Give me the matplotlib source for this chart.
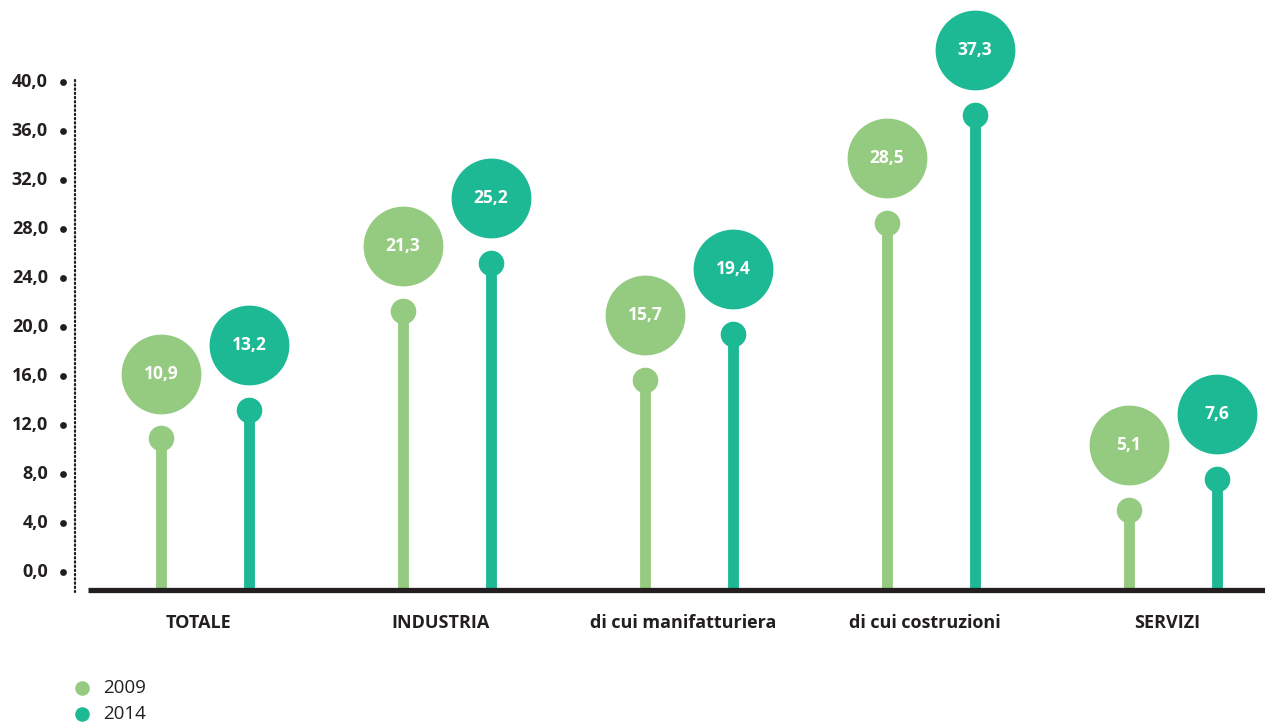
import matplotlib

matplotlib.use("Agg")
import matplotlib.pyplot as plt

plt.rcParams["font.family"] = ["Open Sans", "DejaVu Sans"]

# dati
categorie = ["TOTALE", "INDUSTRIA", "di cui manifatturiera", "di cui costruzioni", "SERVIZI"]
anni = ["2009", "2014"]
valori_2009 = [10.9, 21.3, 15.7, 28.5, 5.1]
valori_2014 = [13.2, 25.2, 19.4, 37.3, 7.6]
tick_y = [0, 4, 8, 12, 16, 20, 24, 28, 32, 36, 40]

COL_2009 = "#95cb80"
COL_2014 = "#1db994"
NERO = "#231f20"

W, H = 1265, 722
fig = plt.figure(figsize=(W / 100, H / 100), dpi=100)
ax = fig.add_axes([0, 0, 1, 1])
ax.axis("off")

# scala: 12.25 px per unità, zero a y=572 px; categorie ogni 242 px
px_y = 12.25
ax.set_ylim(-(H - 572) / px_y, 572 / px_y)
ax.set_xlim(-205 / 242, (W - 205) / 242)

base = -18 / px_y        # linea di base sotto lo zero
off = 44 / 242           # distanza delle due serie dal centro
bolla = 5.3              # bolla etichetta sopra il marker

x = list(range(len(categorie)))
for serie, col, sgn in ((valori_2009, COL_2009, -1), (valori_2014, COL_2014, 1)):
    xs = [i + sgn * off for i in x]
    ax.vlines(xs, base, serie, color=col, lw=7.8, zorder=2)
    ax.scatter(xs, serie, s=340, color=col, lw=0, zorder=3)
    ax.scatter(xs, [v + bolla for v in serie], s=3300, color=col, lw=0, zorder=3)
    for xi, v in zip(xs, serie):
        ax.text(xi, v + bolla, f"{v:.1f}".replace(".", ","), color="white",
                ha="center", va="center", fontsize=12.5, fontweight="bold", zorder=4)

# linea di base
ax.hlines(base, (88 - 205) / 242, (W - 205) / 242, color=NERO, lw=3.8, zorder=5)

# asse y tratteggiato con punti
x_asse = (75 - 205) / 242
ax.plot([x_asse, x_asse], [(572 - 80) / px_y, (572 - 592) / px_y],
        color=NERO, lw=1.6, linestyle=(0, (0.6, 1.3)), dash_capstyle="round")
x_punti = (63 - 205) / 242
ax.scatter([x_punti] * len(tick_y), tick_y, s=24, color=NERO, lw=0)
for t in tick_y:
    ax.text((48 - 205) / 242, t, f"{t:.1f}".replace(".", ","), ha="right",
            va="center", fontsize=13, fontweight="bold", color=NERO)

# etichette categorie
y_cat = (572 - 623) / px_y
for i, c in zip(x, categorie):
    ax.text(i - 6 / 242, y_cat, c, ha="center", va="center", fontsize=13,
            fontweight="bold", color=NERO)

# legenda
for yy, col, lab in ((688, COL_2009, anni[0]), (714, COL_2014, anni[1])):
    yv = (572 - yy) / px_y
    ax.scatter([(82 - 205) / 242], [yv], s=110, color=col, lw=0, clip_on=False)
    ax.text((103 - 205) / 242, yv, lab, ha="left", va="center", fontsize=13.5,
            color=NERO)

fig.savefig("out.png", dpi=100)
